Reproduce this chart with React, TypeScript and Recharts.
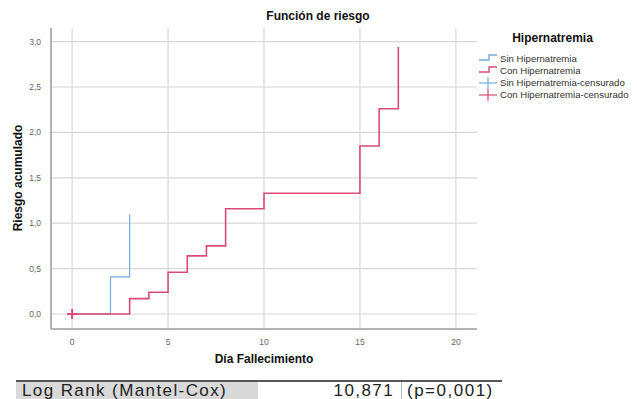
import React from 'react';
import { ComposedChart, Line, Scatter, XAxis, YAxis, CartesianGrid } from 'recharts';

const sinDays = [0, 2, 3];
const sinRisk = [0, 0.41, 1.1];
const conDays = [0, 3, 4, 5, 6, 7, 8, 10, 15, 16, 17];
const conRisk = [0, 0.17, 0.24, 0.46, 0.64, 0.75, 1.16, 1.33, 1.85, 2.26, 2.94];
const censDays = [0];
const censRisk = [0];
const xTicks = [0, 5, 10, 15, 20];
const yTicks = [0, 0.5, 1, 1.5, 2, 2.5, 3];
const legendItems = ['Sin Hipernatremia', 'Con Hipernatremia', 'Sin Hipernatremia-censurado', 'Con Hipernatremia-censurado'];

const BLUE = '#7aa8dc';
const RED = '#dc4a76';

const sinData = sinDays.map((d, i) => ({ x: d, y: sinRisk[i] }));
const conData = conDays.map((d, i) => ({ x: d, y: conRisk[i] }));
const censData = censDays.map((d, i) => ({ x: d, y: censRisk[i] }));

const Plus = (props: any) => {
  const { cx, cy } = props;
  return (
    <g>
      <line x1={cx - 5} y1={cy} x2={cx + 5} y2={cy} stroke={RED} strokeWidth={2} />
      <line x1={cx} y1={cy - 5} x2={cx} y2={cy + 5} stroke={RED} strokeWidth={2} />
    </g>
  );
};

const font = '"Liberation Sans", Arial, sans-serif';

export default function App() {
  return (
    <div style={{ position: 'absolute', left: 0, top: 0, width: 637, height: 399, background: '#fff', fontFamily: font, overflow: 'hidden' }}>
      <ComposedChart width={637} height={370} margin={{ top: 28, right: 160, left: 20, bottom: 11 }}>
        <CartesianGrid stroke="#d8d8d8" strokeWidth={1.2} horizontalValues={yTicks} verticalValues={xTicks} />
        <XAxis
          type="number"
          dataKey="x"
          domain={[-1.1, 21.1]}
          ticks={xTicks}
          allowDataOverflow
          tickLine={false}
          axisLine={{ stroke: '#9a9a9a', strokeWidth: 1.5 }}
          tick={{ fontSize: 8.5, fill: '#666', fontFamily: font }}
          height={30}
          tickMargin={4}
        />
        <YAxis
          type="number"
          dataKey="y"
          domain={[-0.165, 3.15]}
          ticks={yTicks}
          allowDataOverflow
          tickLine={false}
          axisLine={{ stroke: '#9a9a9a', strokeWidth: 1.5 }}
          tick={{ fontSize: 8.5, fill: '#666', fontFamily: font }}
          tickFormatter={(v: number) => v.toFixed(1).replace('.', ',')}
          width={31}
          tickMargin={4}
        />
        <Line data={sinData} dataKey="y" type="stepAfter" stroke={BLUE} strokeWidth={1.2} dot={false} isAnimationActive={false} />
        <Line data={conData} dataKey="y" type="stepAfter" stroke={RED} strokeWidth={1.6} dot={false} isAnimationActive={false} />
        <Scatter data={censData} dataKey="y" shape={<Plus />} isAnimationActive={false} />
      </ComposedChart>

      <div style={{ position: 'absolute', left: 218, top: 9, width: 200, textAlign: 'center', fontSize: 12, fontWeight: 'bold', color: '#111' }}>
        Función de riesgo
      </div>

      <div style={{ position: 'absolute', left: 164, top: 352, width: 200, textAlign: 'center', fontSize: 12, fontWeight: 'bold', color: '#111' }}>
        Día Fallecimiento
      </div>

      <div style={{ position: 'absolute', left: 18 - 60, top: 178 - 8, width: 120, height: 16, lineHeight: '16px', textAlign: 'center', fontSize: 12, fontWeight: 'bold', color: '#111', transform: 'rotate(-90deg)', whiteSpace: 'nowrap' }}>
        Riesgo acumulado
      </div>

      <div style={{ position: 'absolute', left: 500, top: 31, width: 105, textAlign: 'center', fontSize: 12, fontWeight: 'bold', color: '#111' }}>
        Hipernatremia
      </div>
      {legendItems.map((name, i) => {
        const color = i % 2 === 0 ? BLUE : RED;
        const censored = i >= 2;
        return (
          <div key={name} style={{ position: 'absolute', left: 478, top: 52 + i * 12.3, height: 12, display: 'flex', alignItems: 'center', fontSize: 9.6, color: '#333', whiteSpace: 'nowrap' }}>
            <svg width={21} height={12} style={{ marginRight: 1 }}>
              {censored ? (
                <g>
                  <line x1={1} y1={6} x2={19} y2={6} stroke={color} strokeWidth={1.2} />
                  <line x1={10} y1={0} x2={10} y2={12} stroke={color} strokeWidth={1.2} />
                </g>
              ) : (
                <polyline points="1,8 11,8 11,3 19,3" fill="none" stroke={color} strokeWidth={1.4} />
              )}
            </svg>
            <span>{name}</span>
          </div>
        );
      })}

      <div style={{ position: 'absolute', left: 16, top: 380, width: 486, height: 1.5, background: '#555' }} />
      <div style={{ position: 'absolute', left: 16, top: 382, width: 242, height: 17, background: '#d9d9d9' }} />
      <div style={{ position: 'absolute', left: 22, top: 381, fontSize: 17, letterSpacing: 1.4, color: '#222', whiteSpace: 'nowrap', lineHeight: '19px' }}>
        Log Rank (Mantel-Cox)
      </div>
      <div style={{ position: 'absolute', left: 290, width: 104, top: 381, fontSize: 17, letterSpacing: 1.4, color: '#222', textAlign: 'right', whiteSpace: 'nowrap', lineHeight: '19px' }}>
        10,871
      </div>
      <div style={{ position: 'absolute', left: 401, top: 382, width: 1, height: 17, background: '#bbb' }} />
      <div style={{ position: 'absolute', left: 407, top: 381, fontSize: 17, letterSpacing: 1.5, color: '#222', whiteSpace: 'nowrap', lineHeight: '19px' }}>
        (p=0,001)
      </div>
    </div>
  );
}
